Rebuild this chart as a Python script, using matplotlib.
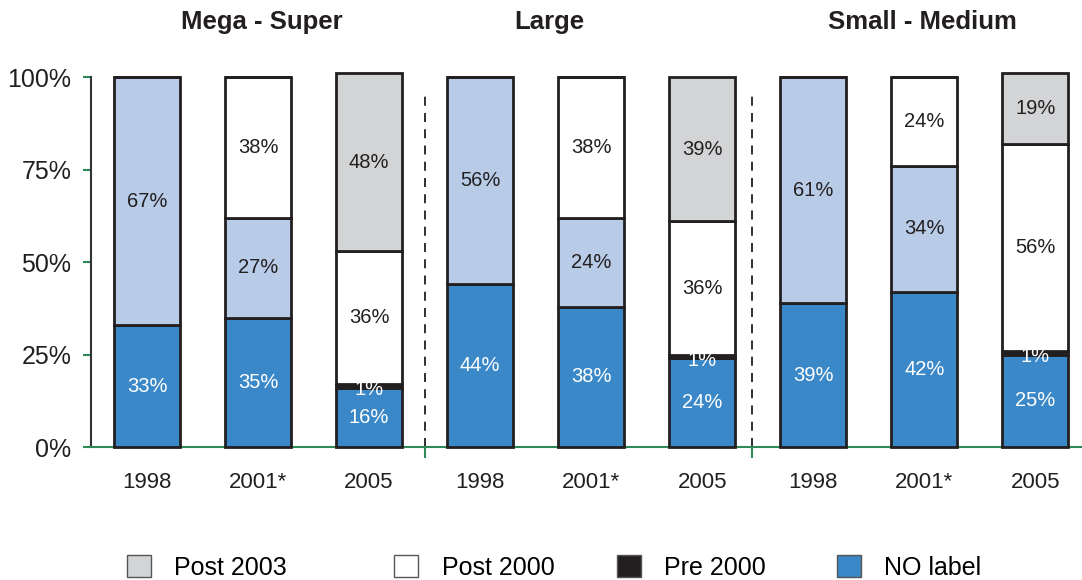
import numpy as np
import matplotlib.pyplot as plt
from matplotlib.patches import Patch

plt.rcParams['font.family'] = ['Liberation Sans', 'DejaVu Sans']

# Datos (en %), de abajo hacia arriba
groups = ["Mega - Super", "Large", "Small - Medium"]
years = ["1998", "2001*", "2005"]
no_label = [33, 35, 16, 44, 38, 24, 39, 42, 25]
pre_2000 = [0, 0, 1, 0, 0, 1, 0, 0, 1]
label_old = [67, 27, 0, 56, 24, 0, 61, 34, 0]
post_2000 = [0, 38, 36, 0, 38, 36, 0, 24, 56]
post_2003 = [0, 0, 48, 0, 0, 39, 0, 0, 19]

series = [
    ("NO label", no_label, "#3A88C8", "white"),
    ("Pre 2000", pre_2000, "#231F20", "white"),
    ("label", label_old, "#B8CCE8", "#231F20"),
    ("Post 2000", post_2000, "white", "#231F20"),
    ("Post 2003", post_2003, "#D3D4D6", "#231F20"),
]

edge = "#231F20"
green = "#2E8B57"

fig = plt.figure(figsize=(10.82, 5.8), dpi=100)
ax = fig.add_axes([0.084, 0.229, 0.916, 0.638])

x = np.arange(len(no_label))
width = 0.595
bottom = np.zeros(len(x))
for name, vals, color, tcolor in series:
    vals = np.array(vals, dtype=float)
    ax.bar(x, vals, width, bottom=bottom, color=color, edgecolor=edge,
           linewidth=2.0, clip_on=False, zorder=3)
    for xi, b, v in zip(x, bottom, vals):
        if v > 0:
            # la etiqueta del 1% queda algo por debajo del centro
            ypos = b + v / 2 if v > 2 else b + v / 2 - 1.0
            ax.text(xi, ypos, f"{int(v)}%", ha="center", va="center",
                    color=tcolor, fontsize=14.5, zorder=4)
    bottom += vals

ax.set_xlim(-0.505, 8.42)
ax.set_ylim(0, 100)
ax.set_yticks([0, 25, 50, 75, 100])
ax.set_yticklabels(["0%", "25%", "50%", "75%", "100%"], fontsize=18, color="#231F20")
ax.set_xticks(x)
ax.set_xticklabels(years * 3, fontsize=16, color="#231F20")
ax.tick_params(axis="x", length=0, pad=18)
ax.tick_params(axis="y", length=6, width=1.5, color=green, pad=8)

# separadores entre grupos
seps = [2.5, 5.45]
ax.set_xticks(seps, minor=True)
ax.tick_params(axis="x", which="minor", length=8, width=1.5, color=green)
for s in seps:
    ax.axvline(s, ymin=0.0, ymax=0.965, color=edge, linestyle=(0, (5, 4)),
               linewidth=1.3, zorder=1)

for sp in ["top", "right"]:
    ax.spines[sp].set_visible(False)
ax.spines["left"].set_color("#333333")
ax.spines["left"].set_linewidth(1.5)
ax.spines["bottom"].set_color(green)
ax.spines["bottom"].set_linewidth(1.5)

# títulos de grupo (el de "Large" no está centrado en el original)
title_pos = [1.03, 3.62, 6.98]
for g, tx in zip(groups, title_pos):
    ax.text(tx, 1.149, g, transform=ax.get_xaxis_transform(),
            ha="center", va="center", fontsize=18.5, fontweight="bold", color="#231F20")

# leyenda: cada entrada por separado para respetar el espaciado original
legend_x = [127, 394, 617, 837]
for (n, _, c, _), lx in zip([series[4], series[3], series[1], series[0]], legend_x):
    h = Patch(facecolor=c, edgecolor="#555555", linewidth=1.0, label=n)
    fig.legend(handles=[h], loc="center left", bbox_to_anchor=(lx / 1082, 0.022),
               frameon=False, fontsize=18, handlelength=0.95, handleheight=1.0,
               handletextpad=0.95, borderpad=0, borderaxespad=0)

fig.savefig("out.png", dpi=100)
